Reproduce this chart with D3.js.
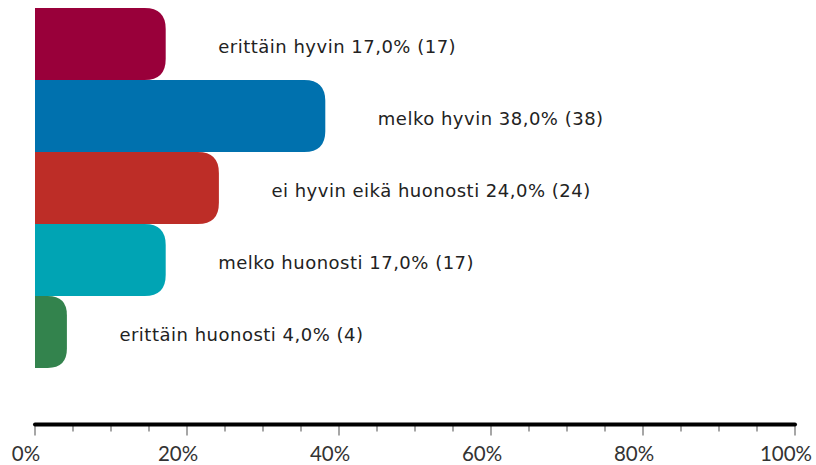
<!DOCTYPE html>
<html>
<head>
<meta charset="utf-8">
<script src="https://cdn.jsdelivr.net/npm/d3@7"></script>
<style>
  body { margin: 0; background: #fff; }
  svg { display: block; }
</style>
</head>
<body>
<svg id="chart" width="816" height="465"></svg>
<script>
const categories = ["erittäin hyvin", "melko hyvin", "ei hyvin eikä huonosti", "melko huonosti", "erittäin huonosti"];
const percents = [17, 38, 24, 17, 4];
const counts = [17, 38, 24, 17, 4];
const colors = ["#99003a", "#0071ae", "#bd2d27", "#00a4b4", "#33834d"];
const majorTicks = [0, 20, 40, 60, 80, 100];
const minorTicks = d3.range(0, 101, 5);

const width = 816;
const height = 465;
const margin = { top: 8, left: 35, right: 21, bottom: 41 };

const svg = d3.select("#chart");

const xScale = d3.scaleLinear().domain([0, 100]).range([margin.left, width - margin.right]);
const yScale = d3.scaleBand().domain(categories).range([margin.top, margin.top + 72 * categories.length]).padding(0);

// bars, rounded only on the right side
function barPath(x0, x1, y0, h) {
  const w = x1 - x0;
  const r = Math.min(21, w * 0.6, h / 2);
  return `M${x0},${y0} H${x1 - r} Q${x1},${y0} ${x1},${y0 + r} V${y0 + h - r} Q${x1},${y0 + h} ${x1 - r},${y0 + h} H${x0} Z`;
}

const data = categories.map((c, i) => ({ cat: c, pct: percents[i], n: counts[i], color: colors[i] }));

svg.append("g")
  .selectAll("path")
  .data(data)
  .enter()
  .append("path")
  .attr("fill", (d) => d.color)
  .attr("d", (d) => barPath(xScale(0), xScale(d.pct) + 1.5, yScale(d.cat), yScale.bandwidth()));

svg.append("g")
  .selectAll("text")
  .data(data)
  .enter()
  .append("text")
  .attr("x", (d) => xScale(d.pct) + 54)
  .attr("y", (d) => yScale(d.cat) + yScale.bandwidth() / 2 + 9)
  .attr("font-family", "DejaVu Sans, sans-serif")
  .attr("font-size", 18)
  .attr("letter-spacing", 0.5)
  .attr("fill", "#222")
  .text((d) => `${d.cat} ${d.pct.toFixed(1).replace(".", ",")}% (${d.n})`);

// axis
const axisY = 424.5;
const axis = svg.append("g");
axis.selectAll("line.minor")
  .data(minorTicks)
  .enter()
  .append("line")
  .attr("x1", (d) => xScale(d))
  .attr("x2", (d) => xScale(d))
  .attr("y1", axisY)
  .attr("y2", (d) => (d % 20 === 0 ? axisY + 11 : axisY + 7))
  .attr("stroke", "#888")
  .attr("stroke-width", 1.5);

axis.append("line")
  .attr("x1", xScale(0))
  .attr("x2", xScale(100))
  .attr("y1", axisY)
  .attr("y2", axisY)
  .attr("stroke", "#000")
  .attr("stroke-width", 4)
  .attr("stroke-linecap", "round");

axis.selectAll("text")
  .data(majorTicks)
  .enter()
  .append("text")
  .attr("x", (d) => xScale(d) - 9)
  .attr("y", 461)
  .attr("text-anchor", "middle")
  .attr("font-family", "Lato, sans-serif")
  .attr("font-size", 20.5)
  .attr("fill", "#333")
  .text((d) => d + "%");
</script>
</body>
</html>
